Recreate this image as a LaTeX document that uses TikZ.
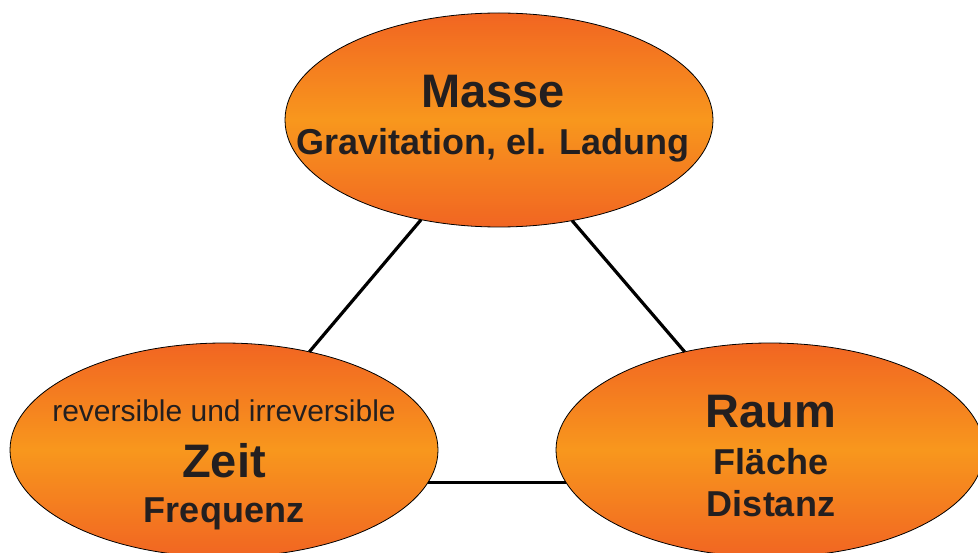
\documentclass[tikz,border=0pt]{standalone}
\usepackage{fontspec}
\setmainfont{Liberation Sans}
\usetikzlibrary{shapes.geometric}

\definecolor{orangedark}{RGB}{241,101,34}
\definecolor{orangelight}{RGB}{248,151,29}
\definecolor{textgray}{RGB}{35,31,32}

\begin{document}
\begin{tikzpicture}[
    x=1pt, y=-1pt,
    bubble/.style={ellipse, draw, line width=0.8pt, inner sep=0pt, outer sep=0pt, minimum width=428pt, minimum height=214pt,
        top color=orangedark, bottom color=orangedark, middle color=orangelight},
    big/.style={anchor=base, text=textgray, font=\bfseries\fontsize{47}{47}\selectfont},
    small/.style={anchor=base, text=textgray, font=\bfseries\fontsize{36}{36}\selectfont},
    note/.style={anchor=base, text=textgray, font=\fontsize{30}{30}\selectfont},
    link/.style={line width=3.2pt}
]
\useasboundingbox (0,0) rectangle (978,553);

% Nodes
\node[bubble] (masse) at (499,120) {};
\node[bubble] (zeit) at (224,450) {};
\node[bubble] (raum) at (770,450) {};

% Texts
\node[big] (masse-title) at (493,108) {Masse};
\node[small] (masse-sub) at (493,155) {Gravitation, el. Ladung};
\node[note] (zeit-note) at (224,422) {reversible und irreversible};
\node[big] (zeit-title) at (224,477) {Zeit};
\node[small] (zeit-sub) at (224,522) {Frequenz};
\node[big] (raum-title) at (771,428) {Raum};
\node[small] (raum-sub) at (771,474) {Fläche};
\node[small] (raum-sub2) at (771,516) {Distanz};

% Lines
\draw[link] (masse.232) -- (zeit.49);
\draw[link] (masse.-54) -- (raum.131);
\draw[link] (zeit.-9) -- (raum.189);

\end{tikzpicture}
\end{document}
